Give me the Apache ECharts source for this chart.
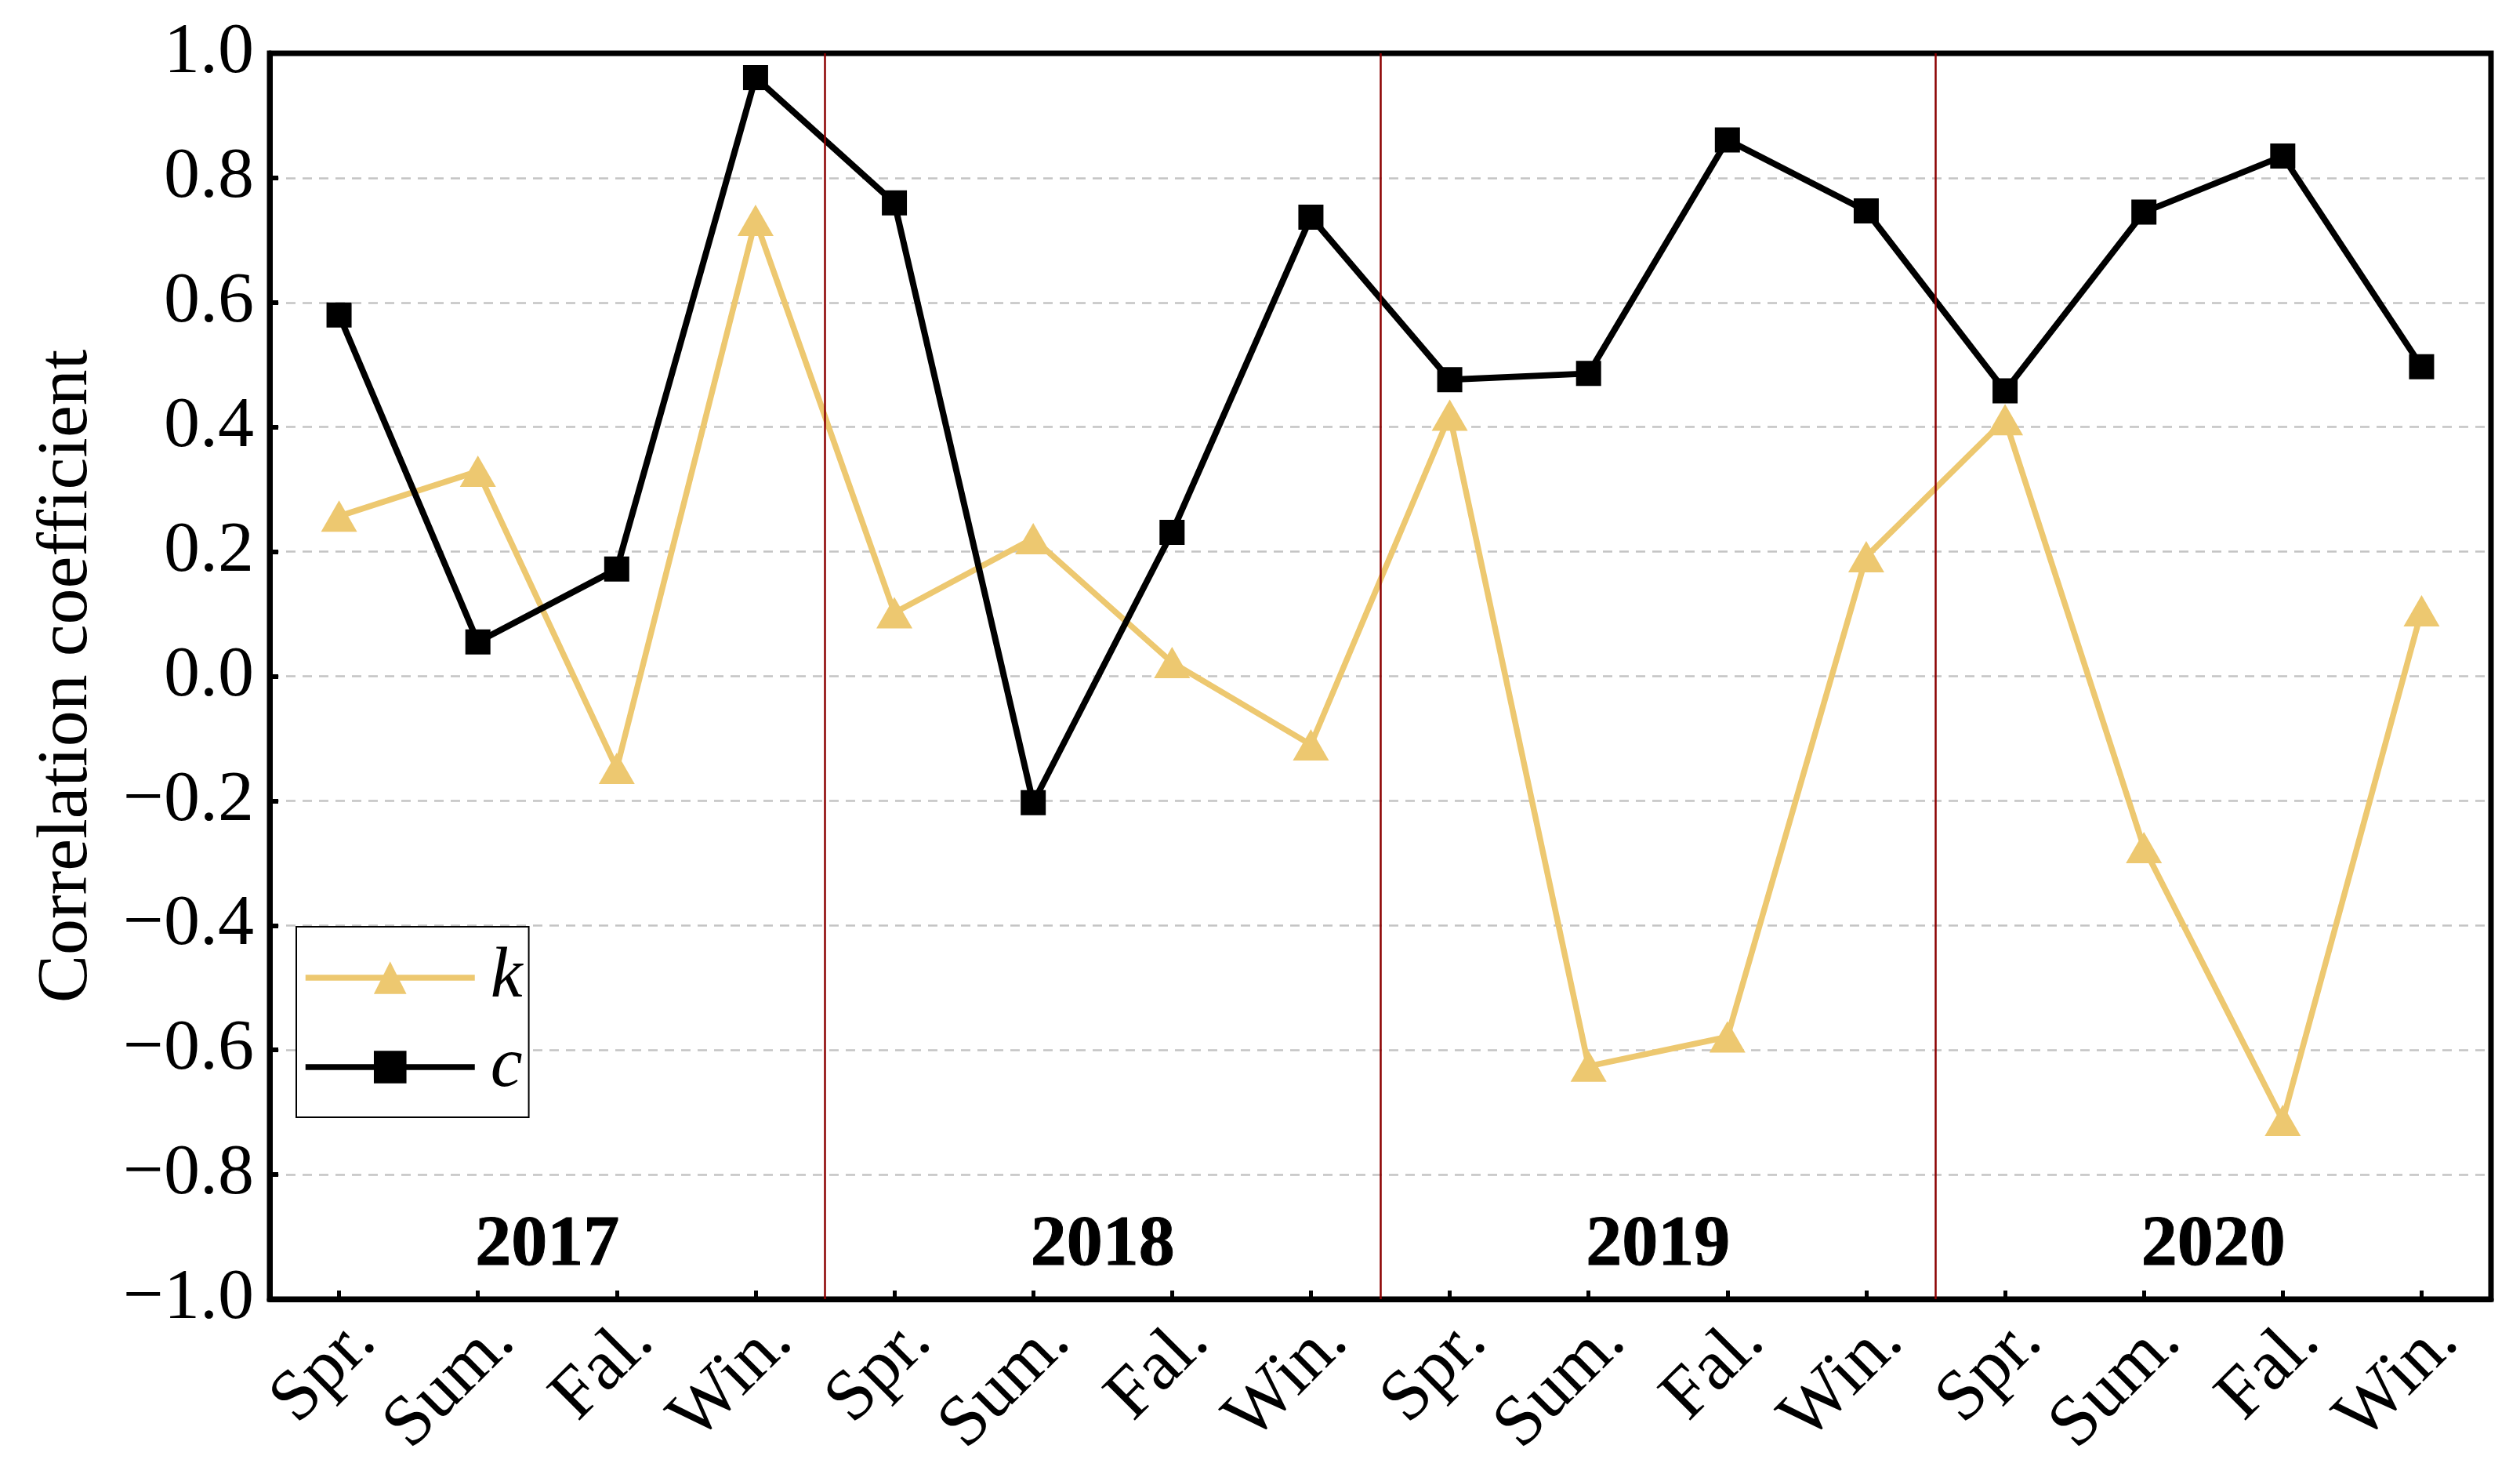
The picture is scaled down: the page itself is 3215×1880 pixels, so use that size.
<!DOCTYPE html>
<html>
<head>
<meta charset="utf-8">
<script src="https://cdn.jsdelivr.net/npm/echarts@6/dist/echarts.min.js"></script>
<style>
html,body{margin:0;padding:0;background:#fff;}
#chart{width:3215px;height:1880px;}
</style>
</head>
<body>
<div id="chart"></div>
<script>
const seasons = ['Spr.','Sum.','Fal.','Win.','Spr.','Sum.','Fal.','Win.','Spr.','Sum.','Fal.','Win.','Spr.','Sum.','Fal.','Win.'];
const years = ['2017','2018','2019','2020'];
const kValues = [0.257, 0.329, -0.148, 0.732, 0.102, 0.221, 0.022, -0.110, 0.419, -0.626, -0.579, 0.192, 0.412, -0.275, -0.713, 0.105];
const cValues = [0.580, 0.055, 0.172, 0.961, 0.760, -0.203, 0.231, 0.737, 0.476, 0.486, 0.861, 0.747, 0.458, 0.745, 0.835, 0.497];
const yTicks = [-1.0, -0.8, -0.6, -0.4, -0.2, 0.0, 0.2, 0.4, 0.6, 0.8, 1.0];
const yearLabelY = -0.915;

const FONT = "'Liberation Serif', 'Times New Roman', serif";
const FS = 92;
const perYear = seasons.length / years.length;

const yearPoints = years.map((y, i) => ({ name: y, value: [i * perYear + (perYear - 1) / 2, yearLabelY] }));
const separators = years.slice(1).map((y, i) => ({ xAxis: (i + 1) * perYear - 0.5 }));

const chart = echarts.init(document.getElementById('chart'));
chart.setOption({
  animation: false,
  backgroundColor: '#fff',
  textStyle: { fontFamily: FONT },
  grid: {
    left: 344, right: 37, top: 68, bottom: 223,
    show: true, borderColor: '#000', borderWidth: 7, containLabel: false
  },
  legend: {
    data: ['k', 'c'],
    orient: 'vertical',
    left: 378, top: 1182,
    padding: [15, 8, 14, 8],
    itemGap: 14,
    itemWidth: 216, itemHeight: 52,
    borderColor: '#000', borderWidth: 2,
    backgroundColor: '#fff',
    lineStyle: { width: 7.5 },
    textStyle: { fontFamily: FONT, fontSize: FS, fontStyle: 'italic', color: '#000', lineHeight: 100, padding: [0, 0, 0, 15] }
  },
  xAxis: [
    {
      type: 'category', data: seasons, boundaryGap: true,
      axisLine: { show: true, onZero: false, lineStyle: { color: '#000', width: 7 } },
      axisTick: { show: true, inside: true, alignWithLabel: true, length: 11, lineStyle: { color: '#000', width: 5 } },
      axisLabel: { rotate: 45, margin: 8, verticalAlign: 'top', fontFamily: FONT, fontSize: FS, color: '#000', interval: 0 },
      splitLine: { show: false }
    },
    { type: 'value', min: -0.5, max: 15.5, show: false, axisLine: { onZero: false } }
  ],
  yAxis: {
    type: 'value', min: yTicks[0], max: yTicks[yTicks.length - 1], interval: 0.2,
    name: 'Correlation coefficient', nameLocation: 'middle', nameGap: 212,
    nameTextStyle: { fontFamily: FONT, fontSize: FS, color: '#000' },
    axisLine: { show: true, onZero: false, lineStyle: { color: '#000', width: 7 } },
    axisTick: { show: true, inside: true, length: 11, lineStyle: { color: '#000', width: 6 } },
    axisLabel: {
      fontFamily: FONT, fontSize: FS, color: '#000', margin: 20,
      formatter: v => (Math.abs(v) < 1e-9 ? '0.0' : v.toFixed(1).replace('-', '\u2212'))
    },
    splitLine: { show: true, showMinLine: false, showMaxLine: false, lineStyle: { color: '#c4c4c4', width: 2.5, type: [12, 9] } }
  },
  series: [
    {
      name: 'years', type: 'scatter', xAxisIndex: 1, data: yearPoints,
      symbolSize: 0, silent: true, z: 1,
      itemStyle: { color: '#000', opacity: 1 },
      label: { show: true, position: 'inside', formatter: p => p.name, fontFamily: FONT, fontSize: FS, fontWeight: 'bold', color: '#000', opacity: 1, textBorderWidth: 1, textBorderColor: '#000' },
      markLine: {
        silent: true, symbol: 'none', label: { show: false },
        lineStyle: { color: '#8b0000', width: 2.5, type: 'solid' },
        data: separators
      }
    },
    {
      name: 'k', type: 'line', data: kValues,
      symbol: 'triangle', symbolSize: [46, 40],
      lineStyle: { color: '#edc870', width: 7.5 },
      itemStyle: { color: '#edc870' },
      z: 3
    },
    {
      name: 'c', type: 'line', data: cValues,
      symbol: 'rect', symbolSize: 32,
      lineStyle: { color: '#000', width: 8 },
      itemStyle: { color: '#000' },
      z: 4
    }
  ]
});
</script>
</body>
</html>
